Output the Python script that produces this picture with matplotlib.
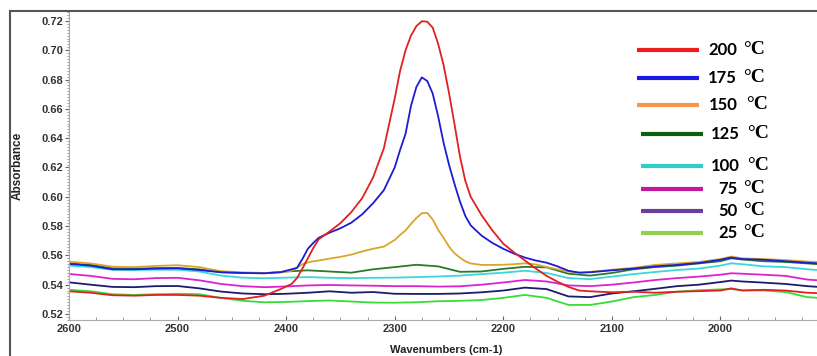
import numpy as np
import matplotlib.pyplot as plt
from matplotlib.lines import Line2D
from matplotlib.ticker import MultipleLocator

# wavenumber grids (cm-1)
wn_fine = [2600, 2580, 2560, 2540, 2520, 2500, 2480, 2460, 2440, 2420,
           2405, 2395, 2390, 2385, 2380, 2375, 2370, 2360, 2350, 2340,
           2330, 2320, 2310, 2300, 2295, 2290, 2285, 2280, 2275, 2270,
           2265, 2260, 2255, 2250, 2245, 2240, 2235, 2230, 2220, 2210,
           2200, 2190, 2180, 2170, 2160, 2150, 2140, 2130, 2120, 2100,
           2080, 2060, 2040, 2020, 2000, 1990, 1980, 1960, 1940, 1920, 1910]
wn_coarse = [2600, 2580, 2560, 2540, 2520, 2500, 2480, 2460, 2440, 2420,
             2400, 2380, 2360, 2340, 2320, 2300, 2280, 2260, 2240, 2220,
             2200, 2180, 2160, 2140, 2120, 2100, 2080, 2060, 2040, 2020,
             2000, 1990, 1980, 1960, 1940, 1920, 1910]

abs_200 = [0.5355, 0.5345, 0.5328, 0.5325, 0.5330, 0.5330, 0.5325, 0.5310, 0.5302, 0.5325,
           0.5370, 0.5405, 0.5445, 0.5510, 0.5580, 0.5650, 0.5710, 0.5763, 0.5820, 0.5895,
           0.5990, 0.6130, 0.6330, 0.6670, 0.6860, 0.7000, 0.7100, 0.7165, 0.7198, 0.7195,
           0.7155, 0.7045, 0.6900, 0.6710, 0.6500, 0.6280, 0.6110, 0.6000, 0.5875, 0.5770,
           0.5680, 0.5620, 0.5565, 0.5510, 0.5460, 0.5420, 0.5385, 0.5360, 0.5355, 0.5348,
           0.5352, 0.5345, 0.5352, 0.5356, 0.5360, 0.5375, 0.5360, 0.5365, 0.5360, 0.5345, 0.5342]
abs_175 = [0.5542, 0.5530, 0.5505, 0.5505, 0.5510, 0.5512, 0.5500, 0.5485, 0.5480, 0.5478,
           0.5485, 0.5505, 0.5515, 0.5575, 0.5645, 0.5685, 0.5720, 0.5755, 0.5785, 0.5823,
           0.5880, 0.5955, 0.6045, 0.6200, 0.6320, 0.6430, 0.6620, 0.6750, 0.6815, 0.6790,
           0.6705, 0.6550, 0.6370, 0.6220, 0.6090, 0.5970, 0.5870, 0.5805, 0.5735, 0.5685,
           0.5645, 0.5612, 0.5585, 0.5565, 0.5550, 0.5525, 0.5495, 0.5482, 0.5485, 0.5498,
           0.5510, 0.5525, 0.5535, 0.5548, 0.5570, 0.5585, 0.5575, 0.5570, 0.5560, 0.5550, 0.5545]
abs_150 = [0.5557, 0.5545, 0.5523, 0.5520, 0.5528, 0.5533, 0.5520, 0.5492, 0.5484, 0.5480,
           0.5485, 0.5495, 0.5515, 0.5540, 0.5552, 0.5560, 0.5565, 0.5578, 0.5590, 0.5605,
           0.5627, 0.5645, 0.5660, 0.5705, 0.5740, 0.5770, 0.5815, 0.5855, 0.5888, 0.5890,
           0.5845, 0.5775, 0.5720, 0.5660, 0.5615, 0.5585, 0.5560, 0.5545, 0.5535, 0.5535,
           0.5536, 0.5540, 0.5546, 0.5538, 0.5520, 0.5505, 0.5490, 0.5483, 0.5487, 0.5502,
           0.5515, 0.5535, 0.5545, 0.5555, 0.5575, 0.5592, 0.5580, 0.5575, 0.5568, 0.5558, 0.5555]
abs_125 = [0.5545, 0.5535, 0.5512, 0.5510, 0.5513, 0.5514, 0.5505, 0.5485, 0.5480, 0.5478,
           0.5490, 0.5498, 0.5490, 0.5482, 0.5505, 0.5520, 0.5536, 0.5525, 0.5488, 0.5490,
           0.5508, 0.5522, 0.5518, 0.5475, 0.5462, 0.5480, 0.5505, 0.5520, 0.5530, 0.5545,
           0.5560, 0.5580, 0.5572, 0.5560, 0.5555, 0.5545, 0.5540]
abs_100 = [0.5530, 0.5520, 0.5502, 0.5500, 0.5502, 0.5502, 0.5490, 0.5462, 0.5448, 0.5444,
           0.5448, 0.5452, 0.5447, 0.5445, 0.5447, 0.5448, 0.5452, 0.5456, 0.5462, 0.5472,
           0.5482, 0.5495, 0.5480, 0.5445, 0.5438, 0.5455, 0.5472, 0.5487, 0.5500, 0.5510,
           0.5530, 0.5546, 0.5540, 0.5525, 0.5520, 0.5505, 0.5500]
abs_75 = [0.5473, 0.5460, 0.5440, 0.5437, 0.5445, 0.5447, 0.5430, 0.5405, 0.5390, 0.5383,
          0.5388, 0.5395, 0.5398, 0.5395, 0.5393, 0.5390, 0.5390, 0.5387, 0.5389, 0.5400,
          0.5415, 0.5432, 0.5422, 0.5395, 0.5390, 0.5400, 0.5415, 0.5432, 0.5445, 0.5455,
          0.5468, 0.5478, 0.5475, 0.5468, 0.5460, 0.5435, 0.5430]
abs_50 = [0.5416, 0.5400, 0.5385, 0.5383, 0.5390, 0.5391, 0.5375, 0.5353, 0.5340, 0.5335,
          0.5338, 0.5345, 0.5355, 0.5345, 0.5350, 0.5338, 0.5337, 0.5337, 0.5340, 0.5348,
          0.5360, 0.5380, 0.5370, 0.5320, 0.5315, 0.5340, 0.5355, 0.5372, 0.5390, 0.5400,
          0.5418, 0.5428, 0.5422, 0.5414, 0.5405, 0.5390, 0.5385]
abs_25 = [0.5365, 0.5355, 0.5335, 0.5330, 0.5335, 0.5338, 0.5335, 0.5310, 0.5290, 0.5280,
          0.5282, 0.5288, 0.5292, 0.5285, 0.5278, 0.5277, 0.5280, 0.5287, 0.5290, 0.5295,
          0.5310, 0.5330, 0.5310, 0.5262, 0.5262, 0.5285, 0.5315, 0.5330, 0.5352, 0.5362,
          0.5368, 0.5370, 0.5362, 0.5360, 0.5350, 0.5315, 0.5310]

labels = ['200', '175', '150', '125', '100', '75', '50', '25']
line_colors = ['#e02020', '#1c1cd2', '#d9a62a', '#2a7a2a', '#3ad8dc', '#dc22cc', '#1c1c6a', '#38dc38']
legend_colors = ['#ee1c1c', '#1a1ae6', '#f7964a', '#0d5e0d', '#33cccc', '#c0189e', '#6a3d9a', '#92d050']
series = [(wn_fine, abs_200), (wn_fine, abs_175), (wn_fine, abs_150), (wn_coarse, abs_125),
          (wn_coarse, abs_100), (wn_coarse, abs_75), (wn_coarse, abs_50), (wn_coarse, abs_25)]

W, H = 817, 356
fig = plt.figure(figsize=(W / 100, H / 100), dpi=100)
ax = fig.add_axes([69 / W, 1 - 320 / H, 1 - 69 / W, (320 - 11) / H])

for (x, y), c in list(zip(series, line_colors))[::-1]:
    ax.plot(x, y, color=c, lw=1.3)

ax.set_xlim(2600, 1911)
ax.set_ylim(0.5159, 0.7268)
ax.xaxis.set_major_locator(MultipleLocator(100))
ax.xaxis.set_minor_locator(MultipleLocator(25))
ax.yaxis.set_major_locator(MultipleLocator(0.02))
ax.yaxis.set_minor_locator(MultipleLocator(0.002))
ax.yaxis.set_major_formatter(plt.FuncFormatter(lambda v, p: f'{v:.2f}'))

for s in ['top', 'right']:
    ax.spines[s].set_visible(False)
for s in ['left', 'bottom']:
    ax.spines[s].set_color('#aaaaaa')
    ax.spines[s].set_linewidth(0.8)

ax.tick_params(axis='y', which='major', direction='out', length=3, color='#666666', pad=1)
ax.tick_params(axis='y', which='minor', direction='out', length=1.5, color='#888888')
ax.tick_params(axis='x', which='major', direction='in', length=3, color='#666666', pad=3)
ax.tick_params(axis='x', which='minor', direction='in', length=2, color='#888888')
for lab in ax.get_xticklabels() + ax.get_yticklabels():
    lab.set_fontfamily('Liberation Sans')
    lab.set_fontweight('bold')
    lab.set_fontsize(8)
    lab.set_color('#333333')

fig.text(446 / W, 1 - 350 / H, 'Wavenumbers (cm-1)', ha='center', va='center',
         fontfamily='Liberation Sans', fontweight='bold', fontsize=8, color='#222222')
fig.text(18 / W, 1 - 166 / H, 'Absorbance', ha='center', va='center', rotation=90,
         fontfamily='Liberation Sans', fontweight='bold', fontsize=8.5, color='#222222')

# outer frame
fig.add_artist(Line2D([10 / W, 10 / W], [0, 1 - 11 / H], color='#555555', lw=1.5))
fig.add_artist(Line2D([10 / W, 1], [1 - 11 / H, 1 - 11 / H], color='#555555', lw=1.5))

# hand-drawn legend
leg_y = [50, 78, 105, 134, 166, 189, 211, 233]
leg_x0 = [637, 637, 637, 641, 641, 641, 641, 641]
num_x = [708, 708, 709, 711, 711, 718, 718, 718]
unit_x = [743, 743, 746, 747, 747, 743, 743, 743]
for i, lab in enumerate(labels):
    yy = 1 - leg_y[i] / H
    fig.add_artist(Line2D([leg_x0[i] / W, (leg_x0[i] + 62) / W], [yy, yy],
                          color=legend_colors[i], lw=3, solid_capstyle='butt'))
    fig.text(num_x[i] / W, yy, lab, ha='left', va='center', fontfamily='Lato',
             fontweight='bold', fontsize=12, color='black')
    fig.text(unit_x[i] / W, yy + 0.002, '°C', ha='left', va='center', fontfamily='Liberation Serif',
             fontweight='bold', fontsize=14, color='black')

fig.savefig('out.png', dpi=100)
